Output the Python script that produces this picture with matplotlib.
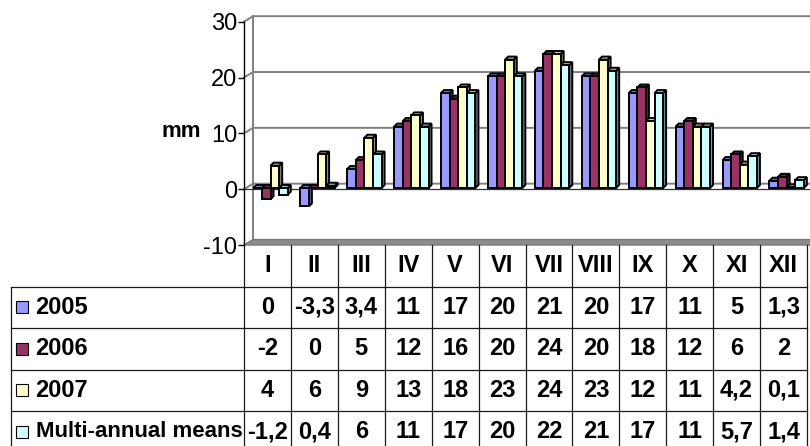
import matplotlib
matplotlib.use("Agg")
import matplotlib.pyplot as plt
from matplotlib.patches import Polygon, Rectangle
import numpy as np

# ---- data -------------------------------------------------------------
months = ["I", "II", "III", "IV", "V", "VI", "VII", "VIII", "IX", "X", "XI", "XII"]
series_names = ["2005", "2006", "2007", "Multi-annual means"]
vals_2005 = [0, -3.3, 3.4, 11, 17, 20, 21, 20, 17, 11, 5, 1.3]
vals_2006 = [-2, 0, 5, 12, 16, 20, 24, 20, 18, 12, 6, 2]
vals_2007 = [4, 6, 9, 13, 18, 23, 24, 23, 12, 11, 4.2, 0.1]
vals_means = [-1.2, 0.4, 6, 11, 17, 20, 22, 21, 17, 11, 5.7, 1.4]
series_colors = ["#9999FF", "#993366", "#FFFFCC", "#CCFFFF"]
y_ticks = [-10, 0, 10, 20, 30]
y_label = "mm"

series_values = [vals_2005, vals_2006, vals_2007, vals_means]

# ---- styling ----------------------------------------------------------
plt.rcParams["font.family"] = ["Liberation Sans", "DejaVu Sans"]
plt.rcParams["axes.unicode_minus"] = False

W, H = 810, 446
fig = plt.figure(figsize=(W / 100, H / 100), dpi=100)

# plot area (front plane), in pixels
AX_L, AX_R, AX_T, AX_B = 244, 807, 21.7, 245
ax = fig.add_axes([AX_L / W, 1 - AX_B / H, (AX_R - AX_L) / W, (AX_B - AX_T) / H])
n_cat = len(months)
ax.set_xlim(0, n_cat)
ax.set_ylim(y_ticks[0], y_ticks[-1])

px_x = (AX_R - AX_L) / n_cat          # pixels per category
px_y = (AX_B - AX_T) / (y_ticks[-1] - y_ticks[0])  # pixels per unit

# 3-D projection offsets (data units)
WALL_DX, WALL_DY = 9 / px_x, 5.5 / px_y
BAR_DX, BAR_DY = 3 / px_x, 3 / px_y
BAR_W = 8.6 / px_x
GROUP_OFF = 0.2
BASE_DY = 1.2 / px_y
X_END = (W + 5 - AX_L) / px_x

grid_col = "#808080"

# floor slab
floor = Polygon([(0, y_ticks[0]), (WALL_DX, y_ticks[0] + WALL_DY),
                 (X_END, y_ticks[0] + WALL_DY), (X_END, y_ticks[0])],
                closed=True, facecolor="#8c8c8c", edgecolor="#7a7a7a",
                lw=1.0, zorder=1, clip_on=False)
ax.add_patch(floor)

# gridlines across side wall and back wall
for t in y_ticks[1:]:
    ax.plot([0, WALL_DX, X_END], [t, t + WALL_DY, t + WALL_DY],
            color=grid_col, lw=1.4, zorder=1, clip_on=False,
            solid_joinstyle="miter")
# back wall left edge
ax.plot([WALL_DX, WALL_DX], [y_ticks[0] + WALL_DY, y_ticks[-1] + WALL_DY],
        color=grid_col, lw=1.4, zorder=1, clip_on=False)

# category axis plane at zero
ax.plot([0, X_END], [0, 0], color="#303030", lw=0.9, zorder=2, clip_on=False)


def shade(hex_color, f):
    c = np.array(matplotlib.colors.to_rgb(hex_color))
    return tuple(c * f)


# 3-D columns
BAR_LW = 1.4
edge_kw = dict(edgecolor="black", lw=BAR_LW, joinstyle="miter")
for i in range(n_cat):
    for k, (vals, col) in enumerate(zip(series_values, series_colors)):
        v = vals[i]
        x0 = i + GROUP_OFF + k * BAR_W
        z = 3 + k * 0.1
        lo, hi = min(v, 0) + BASE_DY, max(v, 0) + BASE_DY
        # right side face
        side = Polygon([(x0 + BAR_W, lo), (x0 + BAR_W, hi),
                        (x0 + BAR_W + BAR_DX, hi + BAR_DY),
                        (x0 + BAR_W + BAR_DX, lo + BAR_DY)],
                       closed=True, facecolor=shade(col, 0.6), zorder=z,
                       clip_on=False, **edge_kw)
        ax.add_patch(side)
        # top face
        top = Polygon([(x0, hi), (x0 + BAR_W, hi),
                       (x0 + BAR_W + BAR_DX, hi + BAR_DY),
                       (x0 + BAR_DX, hi + BAR_DY)],
                      closed=True, facecolor=shade(col, 0.8), zorder=z,
                      clip_on=False, **edge_kw)
        ax.add_patch(top)
        # front face
        ax.bar(x0, v, width=BAR_W, bottom=BASE_DY, align="edge", color=col,
               edgecolor="black", linewidth=BAR_LW, zorder=z + 0.05, clip_on=False)

# axis cosmetics
for s in ["top", "right", "bottom"]:
    ax.spines[s].set_visible(False)
ax.spines["left"].set_color("black")
ax.spines["left"].set_linewidth(1.0)
ax.set_xticks([])
ax.set_yticks(y_ticks)
ax.tick_params(axis="y", direction="out", length=4, width=1.0,
               labelsize=17, pad=1, colors="black")
ax.patch.set_alpha(0)
ax.set_ylabel(y_label, rotation=0, fontsize=16, fontweight="bold",
              ha="center", va="center")
ax.yaxis.set_label_coords((181 - AX_L) / (AX_R - AX_L), 0.507)

# ---- data table -------------------------------------------------------
TB_L, TB_T = 11, 245
ROW_H = 41.5
n_rows = len(series_names) + 1
TB_B = TB_T + n_rows * ROW_H
label_cols = (AX_L - TB_L) / px_x
tax = fig.add_axes([TB_L / W, 1 - TB_B / H, (AX_R - TB_L) / W, (TB_B - TB_T) / H])
tax.set_xlim(-label_cols, n_cat)
tax.set_ylim(n_rows, 0)
tax.axis("off")

line_kw = dict(color="#1a1a1a", lw=0.9, clip_on=False)
for r in range(1, n_rows + 1):
    tax.plot([-label_cols, n_cat], [r, r], **line_kw)
tax.plot([-label_cols, -label_cols], [1, n_rows], **line_kw)
for c in range(n_cat + 1):
    tax.plot([c, c], [0, n_rows], **line_kw)

txt_kw = dict(fontsize=17, fontweight="bold", va="center", color="black")
for i, m in enumerate(months):
    tax.text(i + 0.5, 0.5, m, ha="center", **txt_kw)


def fmt(v):
    return f"{v:g}".replace(".", ",")


key_w = 12 / px_x
key_h = 12 / ROW_H
for r, (name, vals, col) in enumerate(zip(series_names, series_values, series_colors)):
    yc = r + 1.5
    tax.add_patch(Rectangle((-label_cols + 5 / px_x, yc - key_h / 2), key_w, key_h,
                            facecolor=col, edgecolor="black", lw=0.8))
    tax.text(-label_cols + 24.5 / px_x, yc, name, ha="left",
             **dict(txt_kw, fontsize=16 if len(name) > 10 else 17))
    for i, v in enumerate(vals):
        tax.text(i + 0.5, yc, fmt(v), ha="center", **txt_kw)

fig.savefig("out.png", dpi=100)
